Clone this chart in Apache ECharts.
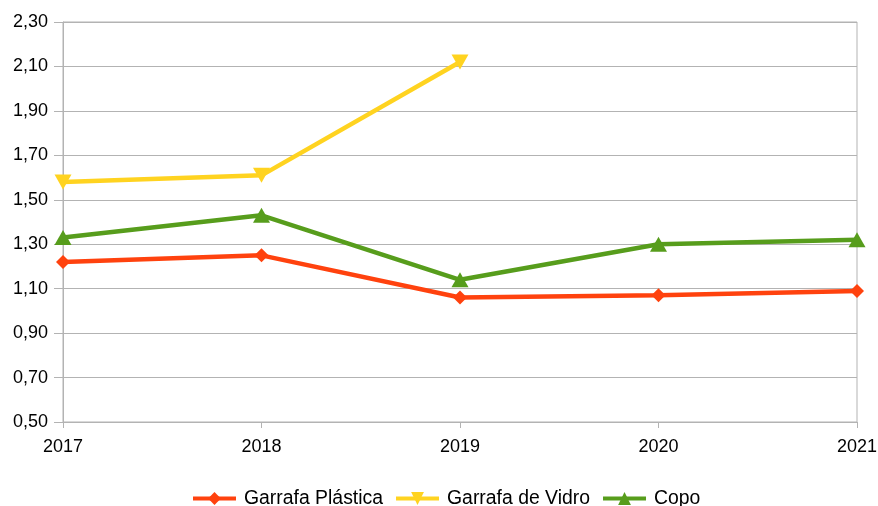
<!DOCTYPE html>
<html>
<head>
<meta charset="utf-8">
<script src="https://cdn.jsdelivr.net/npm/echarts@6/dist/echarts.min.js"></script>
<style>html,body{margin:0;padding:0;background:#fff}#c{width:878px;height:506px}</style>
</head>
<body>
<div id="c"></div>
<script>
const years = ['2017', '2018', '2019', '2020', '2021'];
const garrafaPlastica = [1.22, 1.25, 1.06, 1.07, 1.09];
const garrafaVidro = [1.58, 1.61, 2.12, null, null];
const copo = [1.33, 1.43, 1.14, 1.30, 1.32];
const yTicks = { min: 0.5, max: 2.3, interval: 0.2 };

const chart = echarts.init(document.getElementById('c'));
const font = 'Liberation Sans';
function mk(name, data, color, symbol, size, rotate) {
  return {
    name, type: 'line', data, color, symbol, symbolSize: size, symbolRotate: rotate || 0,
    showSymbol: true, connectNulls: false,
    lineStyle: { width: 4.5, color },
    itemStyle: { color },
    emphasis: { disabled: true }
  };
}
chart.setOption({
  animation: false,
  textStyle: { fontFamily: font },
  grid: { left: 63, right: 21, top: 22, bottom: 84, show: true, borderColor: '#b3b3b3', borderWidth: 1,
    containLabel: false, outerBoundsMode: 'none' },
  xAxis: {
    type: 'category', data: years, boundaryGap: false,
    axisLine: { lineStyle: { color: '#b3b3b3' } },
    axisTick: { show: true, length: 6, lineStyle: { color: '#b3b3b3' } },
    axisLabel: { color: '#000', fontSize: 18, margin: 16, fontFamily: font },
    splitLine: { show: false }
  },
  yAxis: {
    type: 'value', min: yTicks.min, max: yTicks.max, interval: yTicks.interval,
    axisLine: { show: true, lineStyle: { color: '#b3b3b3' } },
    axisTick: { show: true, length: 9, lineStyle: { color: '#b3b3b3' } },
    axisLabel: { color: '#000', fontSize: 18, margin: 15, fontFamily: font,
      formatter: v => v.toFixed(2).replace('.', ',') },
    splitLine: { lineStyle: { color: '#b3b3b3', width: 1 } }
  },
  legend: {
    top: 484, left: 186, itemWidth: 43, itemHeight: 16, itemGap: 11,
    lineStyle: { width: 4 },
    textStyle: { color: '#000', fontSize: 19.4, fontFamily: font, padding: [0, 0, 0, 3] },
    data: ['Garrafa Plástica', 'Garrafa de Vidro', 'Copo']
  },
  series: [
    mk('Garrafa Plástica', garrafaPlastica, '#ff420e', 'diamond', 14),
    mk('Garrafa de Vidro', garrafaVidro, '#ffd320', 'triangle', [17, 15], 180),
    mk('Copo', copo, '#579d1c', 'triangle', [17, 15])
  ]
});
</script>
</body>
</html>
